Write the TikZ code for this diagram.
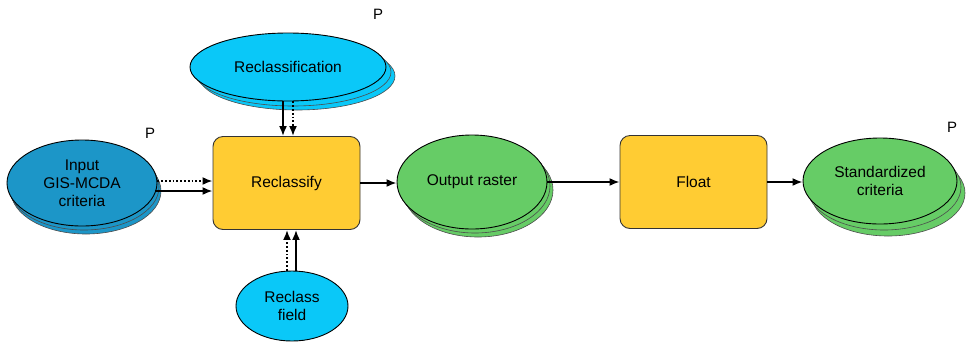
\documentclass[tikz,border=0pt]{standalone}
\usepackage{fontspec}
\setmainfont{Liberation Sans}
\usetikzlibrary{shapes.geometric,arrows.meta,calc}
\definecolor{dblue}{RGB}{28,150,200}
\definecolor{lblue}{RGB}{10,200,248}
\definecolor{lgreen}{RGB}{102,204,102}
\definecolor{gold}{RGB}{255,204,51}
\tikzset{
  ell/.style={ellipse, draw=black, line width=0.9pt, align=center, font=\fontsize{15.5}{18}\selectfont, inner sep=0pt},
  ellcopy/.style={ellipse, draw=black!70, line width=0.6pt, inner sep=0pt},
  procbox/.style={rectangle, rounded corners=10pt, draw=black!80, line width=0.9pt, fill=gold, font=\fontsize{15.5}{18}\selectfont, inner sep=0pt, minimum width=147pt, minimum height=93pt},
  plabel/.style={font=\fontsize{15}{18}\selectfont},
  conn/.style={line width=1.8pt, -{Latex[length=10pt,width=8pt]}},
  dconn/.style={line width=1.8pt, dotted, -{Latex[length=10pt,width=8pt]}},
}
\begin{document}
\begin{tikzpicture}[x=1pt,y=-1pt]
\useasboundingbox (0,0) rectangle (968,346);
% Input criteria (stacked)
\node[ellcopy, fill=dblue, minimum width=150pt, minimum height=86pt] at (86,191) {};
\node[ellcopy, fill=dblue, minimum width=150pt, minimum height=86pt] at (84,187) {};
\node[ell, fill=dblue, minimum width=150pt, minimum height=86pt] (in) at (82,183) {Input\\GIS-MCDA\\criteria};
% Reclassification (stacked)
\node[ellcopy, fill=lblue, minimum width=196pt, minimum height=68pt] at (297,76) {};
\node[ellcopy, fill=lblue, minimum width=196pt, minimum height=68pt] at (293,72) {};
\node[ell, fill=lblue, minimum width=196pt, minimum height=68pt] (rcl) at (288,67) {Reclassification};
% Reclassify box
\node[procbox] (rc) at (286.5,183) {Reclassify};
% Reclass field
\node[ell, fill=lblue, minimum width=112pt, minimum height=70pt] (rf) at (292,306) {Reclass\\field};
% Output raster (stacked)
\node[ellcopy, fill=lgreen, minimum width=150pt, minimum height=94pt] at (478,190) {};
\node[ellcopy, fill=lgreen, minimum width=150pt, minimum height=94pt] at (475,186) {};
\node[ell, fill=lgreen, minimum width=150pt, minimum height=94pt] (out) at (472,182) {Output raster};
% Float box
\node[procbox] (fl) at (693.5,182) {Float};
% Standardized criteria (stacked)
\node[ellcopy, fill=lgreen, minimum width=154pt, minimum height=86pt] at (888,193) {};
\node[ellcopy, fill=lgreen, minimum width=154pt, minimum height=86pt] at (884,187) {};
\node[ell, fill=lgreen, minimum width=154pt, minimum height=86pt] (sc) at (880,181) {Standardized\\criteria};
% P labels
\node[plabel] (p1) at (150,133) {P};
\node[plabel] (p2) at (378,14) {P};
\node[plabel] (p3) at (952,127) {P};
% Connectors
\draw[dconn] ([yshift=2pt]in.east) -- ([yshift=2pt]in.east -| rc.west);
\draw[conn] ([yshift=-8pt]in.east) ++(-2,0) coordinate (a1) -- (a1 -| rc.west);
\draw[conn] ([xshift=-5pt]rcl.south) -- ([xshift=-5pt]rcl.south |- rc.north);
\draw[dconn] ([xshift=5pt]rcl.south) -- ([xshift=5pt]rcl.south |- rc.north);
\draw[dconn] ([xshift=-5pt]rf.north) -- ([xshift=-5pt]rf.north |- rc.south);
\draw[conn] ([xshift=4pt]rf.north) -- ([xshift=4pt]rf.north |- rc.south);
\draw[conn] (rc.east) -- (rc.east -| out.west);
\draw[conn] (out.east) -- (out.east -| fl.west);
\draw[conn] (fl.east) -- (fl.east -| sc.west);
\end{tikzpicture}
\end{document}
